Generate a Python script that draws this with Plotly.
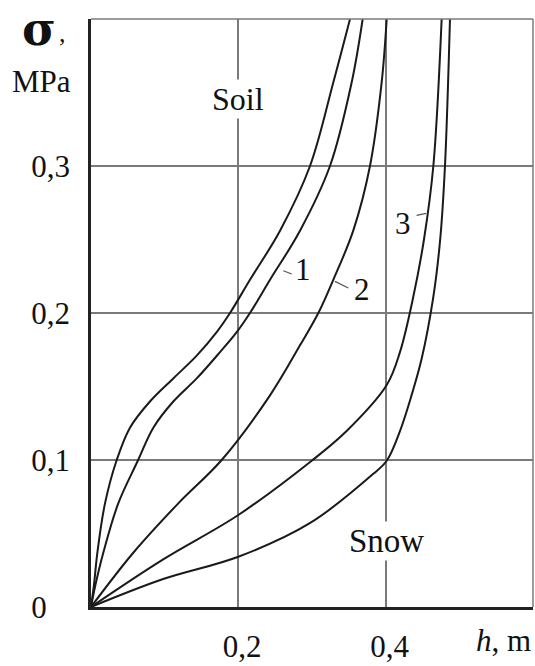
import plotly.graph_objects as go

# ---- data (h in m, sigma in MPa) ----
h_soil_1a = [0, 0.004, 0.0086, 0.019, 0.0349, 0.0529, 0.080, 0.1117, 0.1435, 0.1706, 0.1887,
             0.2158, 0.2566, 0.2973, 0.329, 0.3516]
s_soil_1a = [0, 0.015, 0.0369, 0.0705, 0.1, 0.122, 0.1398, 0.1555, 0.171, 0.187, 0.2,
             0.2226, 0.256, 0.3, 0.357, 0.4]

h_soil_1b = [0, 0.006, 0.0167, 0.037, 0.064, 0.0846, 0.1117, 0.1435, 0.1751, 0.1978, 0.2158,
             0.243, 0.2837, 0.3244, 0.3539, 0.3688]
s_soil_1b = [0, 0.015, 0.0369, 0.0705, 0.1, 0.122, 0.1398, 0.1555, 0.1734, 0.187, 0.2,
             0.2226, 0.256, 0.3, 0.357, 0.4]

h_curve_2 = [0, 0.0574, 0.1185, 0.1774, 0.243, 0.2837, 0.3086, 0.3289, 0.356, 0.3787, 0.3946, 0.4014]
s_curve_2 = [0, 0.0369, 0.0705, 0.1, 0.144, 0.178, 0.2, 0.2226, 0.256, 0.3, 0.357, 0.4]

h_curve_3 = [0, 0.098, 0.2, 0.2996, 0.347, 0.4014, 0.4194, 0.4375, 0.452, 0.4647, 0.476]
s_curve_3 = [0, 0.0324, 0.0626, 0.0995, 0.1197, 0.151, 0.1734, 0.211, 0.25, 0.3, 0.4]

h_snow = [0, 0.098, 0.2, 0.297, 0.3832, 0.4014, 0.4194, 0.4353, 0.4489, 0.4647, 0.474, 0.4805, 0.4873]
s_snow = [0, 0.019, 0.0342, 0.057, 0.0906, 0.0995, 0.1197, 0.1443, 0.169, 0.211, 0.25, 0.3, 0.4]

x_tickvals = [0.2, 0.4]
x_ticktext = ["\u00a00,2", "\u00a00,4"]
y_tickvals = [0, 0.1, 0.2, 0.3]
y_ticktext = ["0\u00a0\u00a0\u00a0", "0,1", "0,2", "0,3"]

FONT = "Liberation Serif, Times New Roman, serif"

fig = go.Figure()
for hx, sy in [(h_soil_1a, s_soil_1a), (h_soil_1b, s_soil_1b), (h_curve_2, s_curve_2),
               (h_curve_3, s_curve_3), (h_snow, s_snow)]:
    fig.add_trace(go.Scatter(x=hx, y=sy, mode="lines",
                             line=dict(color="#1a1a1a", width=2, shape="spline", smoothing=1.0),
                             showlegend=False, hoverinfo="skip"))

fig.update_layout(
    width=535, height=666,
    margin=dict(l=91, r=2, t=19, b=51),
    paper_bgcolor="white", plot_bgcolor="white",
    font=dict(family=FONT, size=31, color="#111"),
    xaxis=dict(range=[0, 0.6], tickvals=x_tickvals, ticktext=x_ticktext,
               showgrid=True, gridcolor="#7a7a7a", gridwidth=1.5,
               showline=True, linecolor="#222", linewidth=2.5,
               zeroline=False, ticks="", ticklabelstandoff=10,
               tickfont=dict(family=FONT, size=31, color="#111")),
    yaxis=dict(range=[0, 0.4], tickvals=y_tickvals, ticktext=y_ticktext,
               showgrid=True, gridcolor="#7a7a7a", gridwidth=1.5,
               showline=True, linecolor="#222", linewidth=2.5,
               zeroline=False, ticks="", ticklabelstandoff=12,
               tickfont=dict(family=FONT, size=31, color="#111")),
)

# top and right frame (thin grey)
fig.add_shape(type="line", xref="paper", yref="paper", x0=0, x1=1, y0=1, y1=1,
              line=dict(color="#7a7a7a", width=1.5))
fig.add_shape(type="line", xref="paper", yref="paper", x0=1, x1=1, y0=0, y1=1,
              line=dict(color="#7a7a7a", width=1.5))

# leader lines for curve labels
for (x0, y0, x1, y1) in [(0.2611, 0.2287, 0.2725, 0.2265),
                         (0.3312, 0.2215, 0.3493, 0.2170),
                         (0.442, 0.2664, 0.455, 0.2678)]:
    fig.add_shape(type="line", x0=x0, y0=y0, x1=x1, y1=y1,
                  line=dict(color="#555", width=1.2))

ann = [
    dict(x=0.2878, y=0.2299, text="1"),
    dict(x=0.3685, y=0.2161, text="2"),
    dict(x=0.424, y=0.261, text="3"),
]
for a in ann:
    fig.add_annotation(x=a["x"], y=a["y"], text=a["text"], showarrow=False,
                       font=dict(family=FONT, size=31, color="#111"))

fig.add_annotation(x=0.2, y=0.3456, text="Soil", showarrow=False, bgcolor="white",
                   font=dict(family=FONT, size=32, color="#111"))
fig.add_annotation(x=0.401, y=0.045, text="Snow", showarrow=False, bgcolor="white",
                   font=dict(family=FONT, size=33, color="#111"))

# axis titles
fig.add_annotation(xref="paper", yref="paper", x=1, y=0, xanchor="right", yanchor="top",
                   yshift=-14, text="<i>h</i>, m", showarrow=False,
                   font=dict(family=FONT, size=31, color="#111"))
fig.add_annotation(xref="paper", yref="paper", x=-91/442, y=1, xanchor="left", yanchor="top",
                   xshift=20, yshift=19, text="<b>σ</b>", showarrow=False,
                   font=dict(family="DejaVu Serif", size=46, color="#111"))
fig.add_annotation(xref="paper", yref="paper", x=-91/442, y=1, xanchor="left", yanchor="middle",
                   xshift=57, yshift=-14, text=",", showarrow=False,
                   font=dict(family=FONT, size=26, color="#111"))
fig.add_annotation(xref="paper", yref="paper", x=-91/442, y=1, xanchor="left", yanchor="middle",
                   xshift=10, yshift=-62, text="MPa", showarrow=False,
                   font=dict(family=FONT, size=31, color="#111"))

fig.write_html("out.html")
